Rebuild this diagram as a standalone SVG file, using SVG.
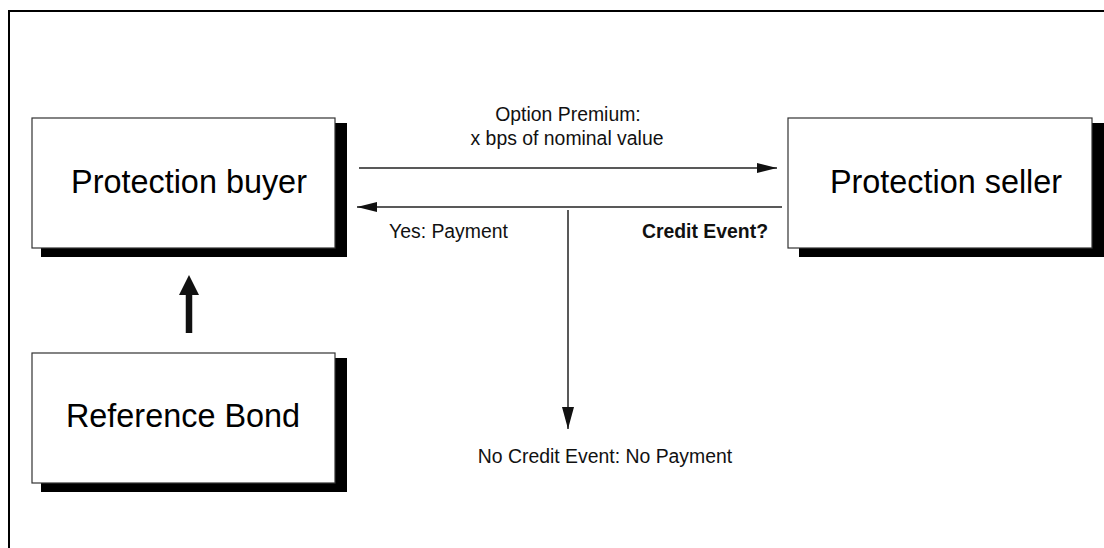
<svg xmlns="http://www.w3.org/2000/svg" width="1104" height="548" viewBox="0 0 1104 548">
<style>
.box{fill:#fff;stroke:#333;stroke-width:1.2}
.shadow{fill:#000}
.big{font-family:"Liberation Sans",Arial,sans-serif;font-size:32.4px;fill:#000;text-anchor:middle}
.lbl{font-family:"Liberation Sans",Arial,sans-serif;font-size:19.4px;fill:#111}
.conn{stroke:#222;stroke-width:1.5;fill:none}
</style>
<defs>
<marker id="ah" viewBox="0 0 20 10" refX="20" refY="5" markerWidth="20" markerHeight="10" markerUnits="userSpaceOnUse" orient="auto">
<path d="M0,0 L20,5 L0,10 Z" fill="#111"/>
</marker>
<marker id="ahv" viewBox="0 0 22 12" refX="22" refY="6" markerWidth="22" markerHeight="12" markerUnits="userSpaceOnUse" orient="auto">
<path d="M0,0 L22,6 L0,12 Z" fill="#111"/>
</marker>
</defs>
<rect x="9" y="11" width="1110" height="560" fill="#fff" stroke="#000" stroke-width="2"/>
<g id="buyer">
<rect class="shadow" x="41" y="123" width="306" height="134"/>
<rect class="box" x="32" y="118" width="303" height="130"/>
<text class="big" x="189" y="193">Protection buyer</text>
</g>
<g id="seller">
<rect class="shadow" x="799" y="123" width="306" height="134"/>
<rect class="box" x="788" y="118" width="304" height="130"/>
<text class="big" x="946" y="193">Protection seller</text>
</g>
<g id="bond">
<rect class="shadow" x="41" y="358" width="306" height="134"/>
<rect class="box" x="32" y="353" width="303" height="130"/>
<text class="big" x="183" y="427">Reference Bond</text>
</g>
<g id="connectors">
<line class="conn" x1="359" y1="168" x2="777" y2="168" marker-end="url(#ah)"/>
<line class="conn" x1="782" y1="207" x2="357" y2="207" marker-end="url(#ah)"/>
<line class="conn" x1="568" y1="210" x2="568" y2="429" marker-end="url(#ahv)"/>
<line x1="189" y1="333" x2="189" y2="292" stroke="#111" stroke-width="6.5"/>
<path d="M179,295 L189,275 L199,295 Z" fill="#111"/>
</g>
<g id="labels">
<text class="lbl" x="568" y="121" text-anchor="middle">Option Premium:</text>
<text class="lbl" x="567" y="145" text-anchor="middle">x bps of nominal value</text>
<text class="lbl" x="389" y="238">Yes: Payment</text>
<text class="lbl" x="768" y="238" text-anchor="end" font-weight="bold">Credit Event?</text>
<text class="lbl" x="605" y="463" text-anchor="middle">No Credit Event: No Payment</text>
</g>
</svg>
